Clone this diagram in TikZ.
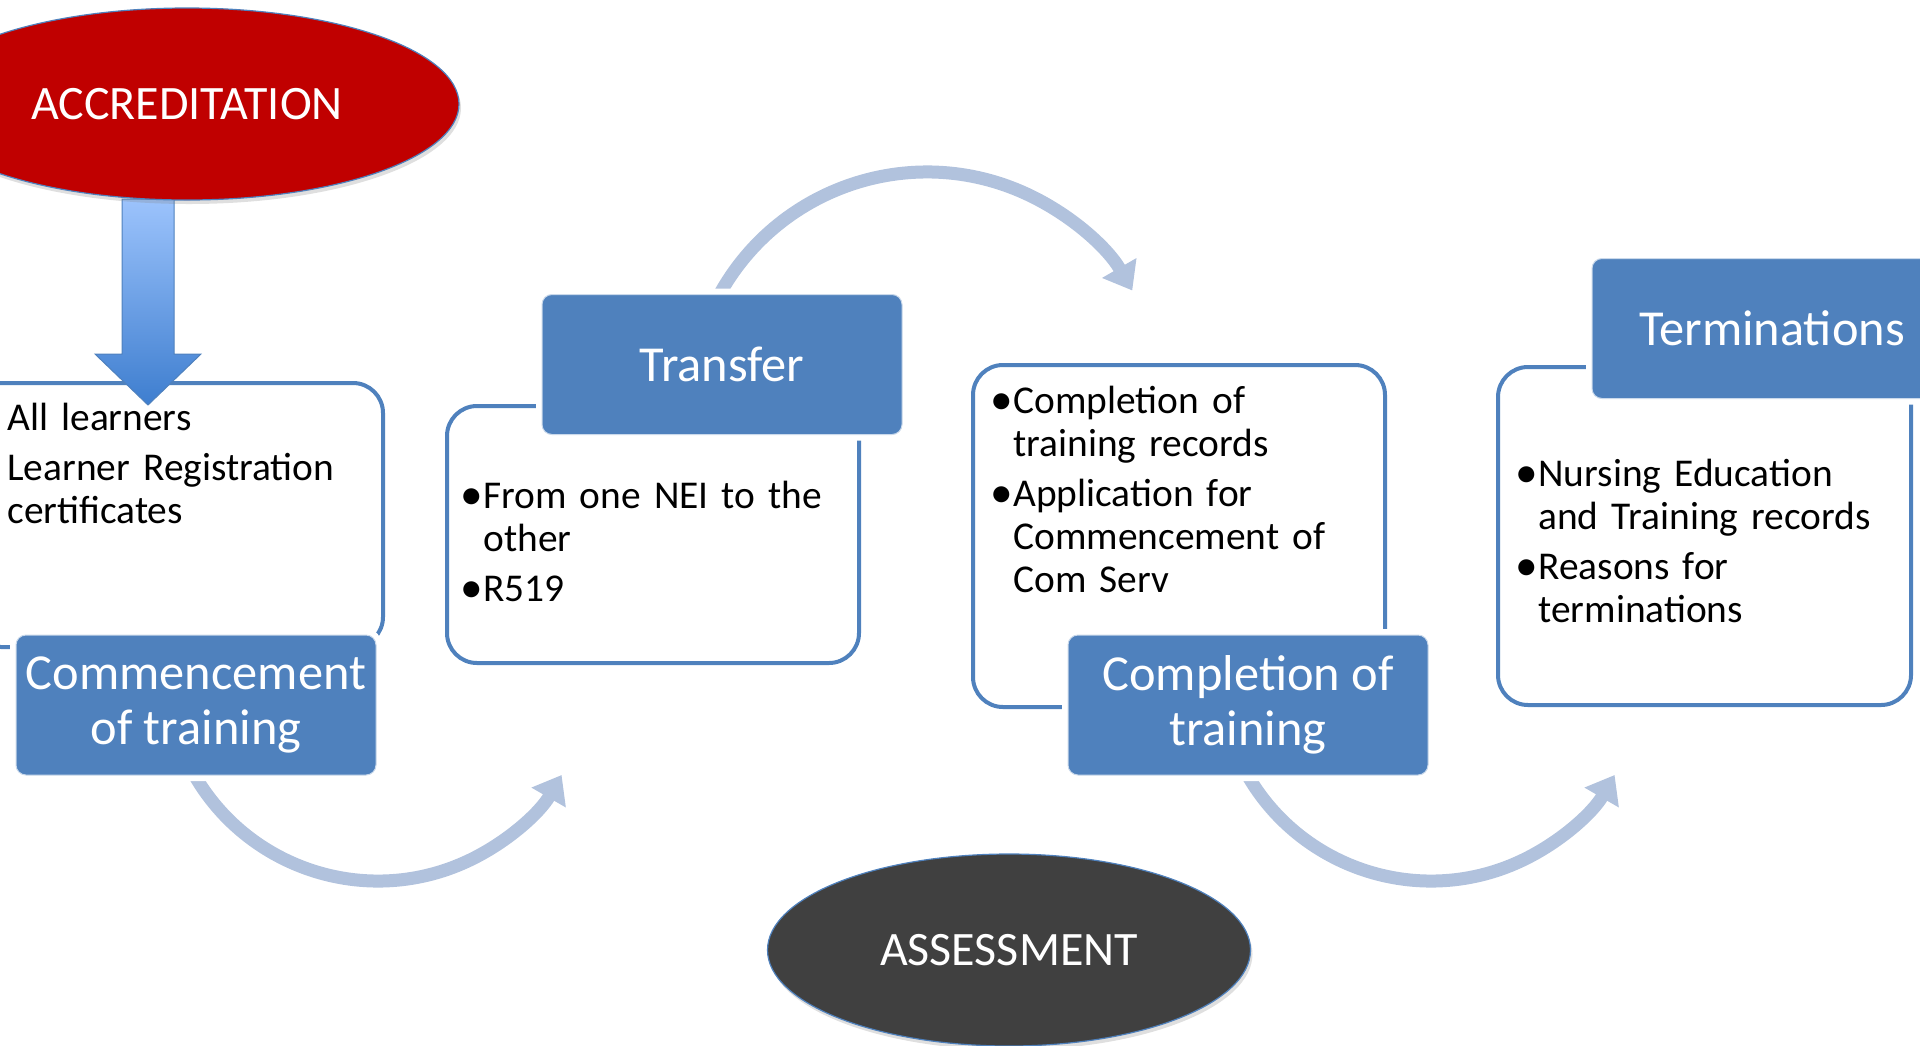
\documentclass[tikz,border=0pt]{standalone}
\usepackage{fontspec}
\usepackage{graphicx}
\setmainfont{Carlito}
\usetikzlibrary{shapes.geometric,arrows.meta,shadows}

\definecolor{accent}{HTML}{4F81BD}
\definecolor{flowarc}{HTML}{B1C2DD}
\definecolor{accred}{HTML}{C00000}
\definecolor{assess}{HTML}{404040}
\definecolor{arrowtop}{HTML}{9CC3FC}
\definecolor{arrowbot}{HTML}{3E7ECF}

% bullet paragraph with hanging indent
\newcommand\bulletitem[1]{\noindent\hangindent=8pt\hangafter=1%
  \makebox[8pt][l]{\hspace{-3.6pt}\raisebox{-0.6pt}{\scalebox{1.15}{\textbullet}}}#1\par}

\tikzset{
  infobox/.style={draw=accent, line width=2pt, fill=white, rounded corners=15pt, inner sep=0pt},
  titlebox/.style={fill=accent, draw=white!70!accent, line width=0.5pt, rounded corners=5pt,
    minimum width=180pt, minimum height=70pt, inner sep=0pt, text=white, align=center,
    font=\fontsize{25.2pt}{27.5pt}\selectfont, preaction={draw=white, line width=6pt}},
  bodytext/.style={anchor=base west, inner sep=0pt, text width=210pt,
    font=\fontsize{19.7pt}{21.5pt}\selectfont},
  flow/.style={draw=flowarc, line width=6.5pt, -{Triangle[length=13pt,width=19pt]}},
  oval/.style={ellipse, inner sep=0pt, draw=accent, line width=0.6pt, text=white,
    font=\fontsize{24pt}{28pt}\selectfont,
    drop shadow={shadow xshift=1pt, shadow yshift=-2pt, opacity=0.25}},
}

\begin{document}
\begin{tikzpicture}[x=0.5pt, y=-0.5pt]
\useasboundingbox (0,0) rectangle (1920,1045);

% content panels
\node[infobox, minimum width=206pt, minimum height=132pt] (o1) at (177,515) {};
\node[infobox, minimum width=206pt, minimum height=128.5pt] (o2) at (653,534.5) {};
\node[infobox, minimum width=206pt, minimum height=171pt] (o3) at (1179,536) {};
\node[infobox, minimum width=206.5pt, minimum height=169pt] (o4) at (1704.5,536) {};

% panel texts
\node[bodytext] (t1) at (7,430) {\setlength\parskip{3.5pt}\noindent All learners\par\noindent Learner Registration\newline certificates};
\node[bodytext] (t2) at (467,508) {\setlength\parskip{3.5pt}\bulletitem{From one NEI to the\newline other}\bulletitem{R519}};
\node[bodytext] (t3) at (997,413) {\setlength\parskip{3.5pt}\bulletitem{Completion of\newline training records}\bulletitem{Application for\newline Commencement of\newline Com Serv}};
\node[bodytext] (t4) at (1522,486) {\setlength\parskip{3.5pt}\bulletitem{Nursing Education\newline and Training records}\bulletitem{Reasons for\newline terminations}};

% curved flow arrows between stages
\coordinate (c1) at (378,669);
\coordinate (c2) at (927,409);
\coordinate (c3) at (1431,669);
\draw[flow] ([shift={(205:106pt)}]c1) arc[start angle=205, end angle=330, radius=106pt];
\draw[flow] ([shift={(156:118.5pt)}]c2) arc[start angle=156, end angle=30, radius=118.5pt];
\draw[flow] ([shift={(205:106pt)}]c3) arc[start angle=205, end angle=330, radius=106pt];

% stage titles
\node[titlebox] (b1) at (196,705) {Commencement\\of training};
\node[titlebox] (b2) at (722,364.5) {Transfer};
\node[titlebox] (b3) at (1248,705) {Completion of\\training};
\node[titlebox] (b4) at (1772,328.5) {Terminations};

% block arrow from accreditation
\shadedraw[top color=arrowtop, bottom color=arrowbot, draw=accent, line width=0.5pt]
  (122,199) -- (174,199) -- (174,354) -- (201,354) -- (148,405) -- (95,354) -- (122,354) -- cycle;

% ovals
\node[oval, fill=accred, minimum width=272pt, minimum height=96pt] (accr) at (187,104) {ACCREDITATION};
\node[oval, fill=assess, minimum width=241.5pt, minimum height=96pt] (assm) at (1009,950) {ASSESSMENT};
\end{tikzpicture}
\end{document}
